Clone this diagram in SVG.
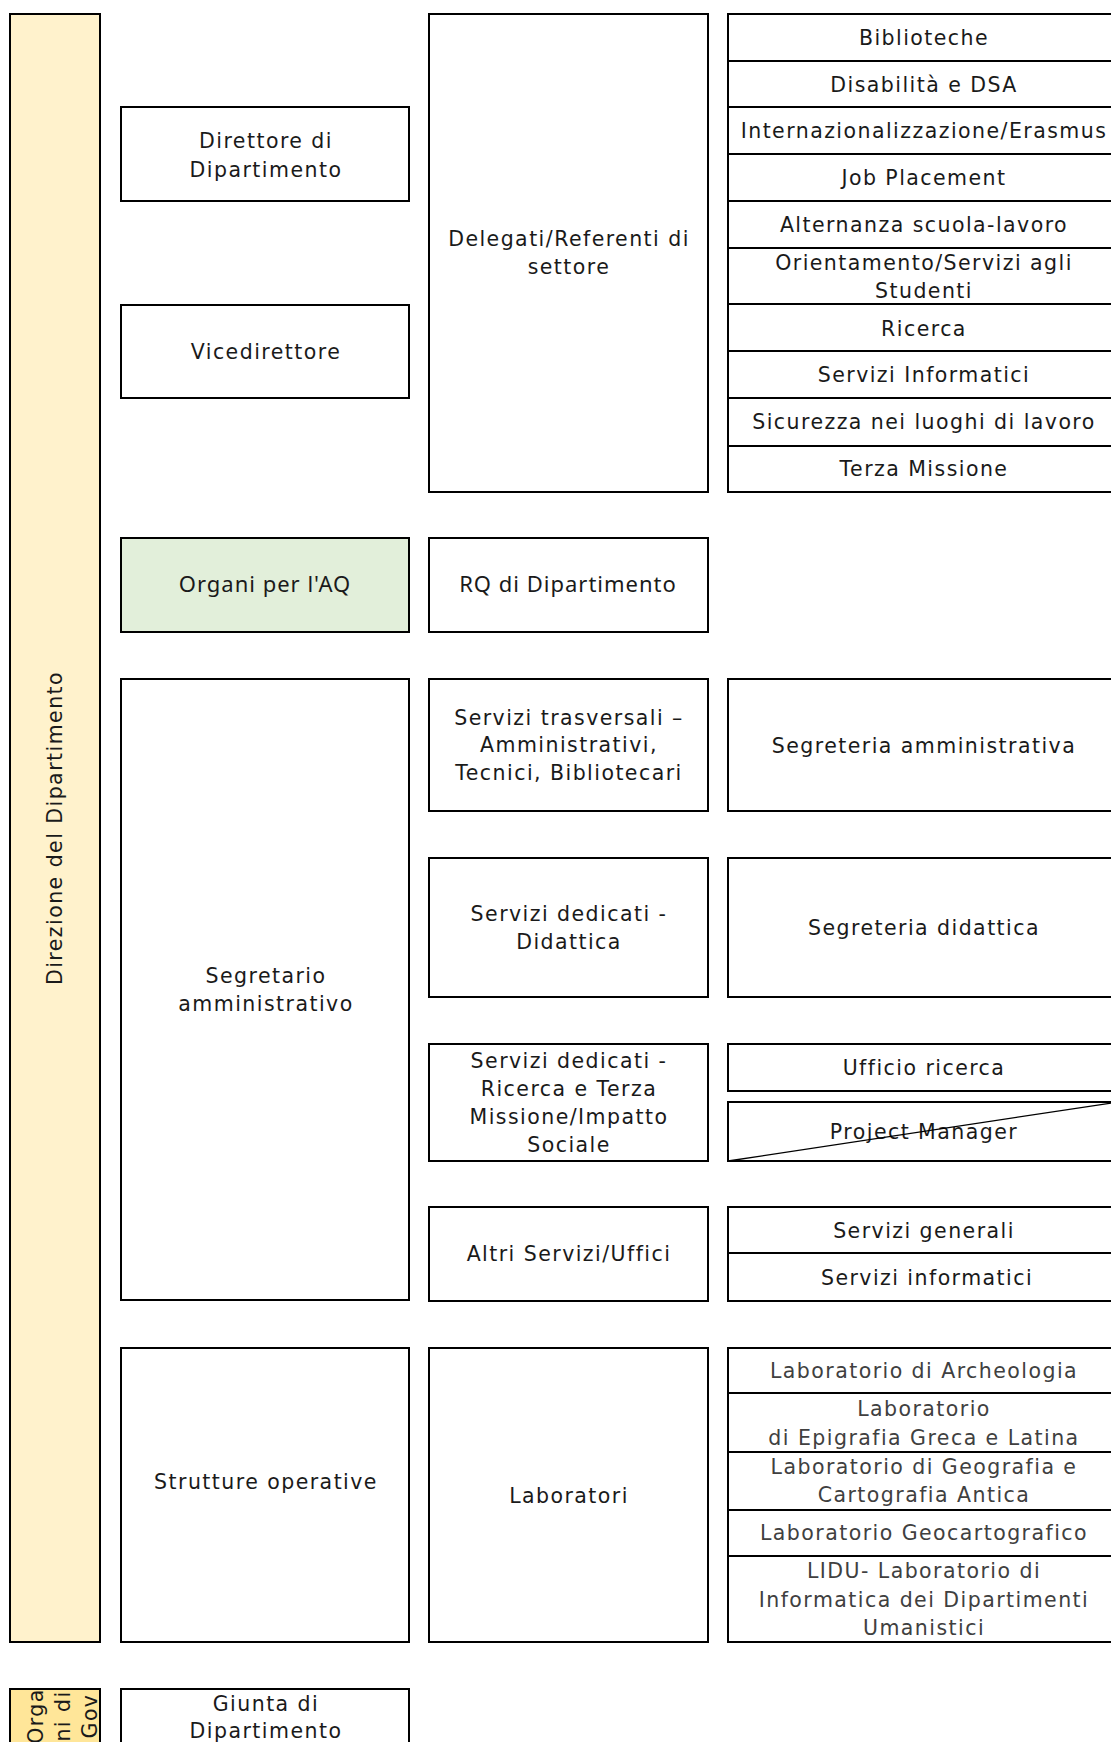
<svg xmlns="http://www.w3.org/2000/svg" width="1111" height="1742" viewBox="0 0 1111 1742">
<style>
  .b{fill:#ffffff;stroke:#000000;stroke-width:2}
  .y{fill:#fff2cc;stroke:#000000;stroke-width:2}
  .y2{fill:#ffe699;stroke:#000000;stroke-width:2}
  .g{fill:#e2efda;stroke:#000000;stroke-width:2}
  text{font-family:"DejaVu Sans","Noto Sans",sans-serif;font-size:20.5px;letter-spacing:1.45px;fill:#1a1a1a;text-anchor:middle}
  .lab{fill:#404040}
  .aq{font-family:"Noto Sans","Open Sans",sans-serif;font-size:22px;letter-spacing:1px}
</style>
<rect width="1111" height="1742" fill="#ffffff"/>
<g id="connectors"></g>

<g id="direzione">
  <rect class="y" x="10" y="14" width="90" height="1628"/>
  <text transform="translate(62,828) rotate(-90)">Direzione del Dipartimento</text>
</g>

<g id="direttore">
  <rect class="b" x="121" y="107" width="288" height="94"/>
  <text x="266" y="148">Direttore di</text>
  <text x="266" y="177">Dipartimento</text>
</g>
<g id="vicedirettore">
  <rect class="b" x="121" y="305" width="288" height="93"/>
  <text x="266" y="359">Vicedirettore</text>
</g>
<g id="delegati">
  <rect class="b" x="429" y="14" width="279" height="478"/>
  <text x="569" y="246">Delegati/Referenti di</text>
  <text x="569" y="274">settore</text>
</g>

<g id="deleghe">
  <rect class="b" x="728" y="14" width="390" height="47"/>
  <text x="924" y="45">Biblioteche</text>
  <rect class="b" x="728" y="61" width="390" height="46"/>
  <text x="924" y="92">Disabilità e DSA</text>
  <rect class="b" x="728" y="107" width="390" height="47"/>
  <text x="924" y="138">Internazionalizzazione/Erasmus</text>
  <rect class="b" x="728" y="154" width="390" height="47"/>
  <text x="924" y="185">Job Placement</text>
  <rect class="b" x="728" y="201" width="390" height="47"/>
  <text x="924" y="232">Alternanza scuola-lavoro</text>
  <rect class="b" x="728" y="248" width="390" height="56"/>
  <text x="924" y="270">Orientamento/Servizi agli</text>
  <text x="924" y="298">Studenti</text>
  <rect class="b" x="728" y="304" width="390" height="47"/>
  <text x="924" y="336">Ricerca</text>
  <rect class="b" x="728" y="351" width="390" height="47"/>
  <text x="924" y="382">Servizi Informatici</text>
  <rect class="b" x="728" y="398" width="390" height="48"/>
  <text x="924" y="429">Sicurezza nei luoghi di lavoro</text>
  <rect class="b" x="728" y="446" width="390" height="46"/>
  <text x="924" y="476">Terza Missione</text>
</g>

<g id="organi-aq">
  <rect class="g" x="121" y="538" width="288" height="94"/>
  <text class="aq" x="265" y="592">Organi per l'AQ</text>
</g>
<g id="rq">
  <rect class="b" x="429" y="538" width="279" height="94"/>
  <text class="aq" x="568" y="592">RQ di Dipartimento</text>
</g>

<g id="segretario">
  <rect class="b" x="121" y="679" width="288" height="621"/>
  <text x="266" y="983">Segretario</text>
  <text x="266" y="1011">amministrativo</text>
</g>
<g id="servizi-trasversali">
  <rect class="b" x="429" y="679" width="279" height="132"/>
  <text x="569" y="725">Servizi trasversali –</text>
  <text x="569" y="752">Amministrativi,</text>
  <text x="569" y="780">Tecnici, Bibliotecari</text>
</g>
<g id="segreteria-amministrativa">
  <rect class="b" x="728" y="679" width="390" height="132"/>
  <text x="924" y="753">Segreteria amministrativa</text>
</g>
<g id="servizi-didattica">
  <rect class="b" x="429" y="858" width="279" height="139"/>
  <text x="569" y="921">Servizi dedicati -</text>
  <text x="569" y="949">Didattica</text>
</g>
<g id="segreteria-didattica">
  <rect class="b" x="728" y="858" width="390" height="139"/>
  <text x="924" y="935">Segreteria didattica</text>
</g>
<g id="servizi-ricerca">
  <rect class="b" x="429" y="1044" width="279" height="117"/>
  <text x="569" y="1068">Servizi dedicati -</text>
  <text x="569" y="1096">Ricerca e Terza</text>
  <text x="569" y="1124">Missione/Impatto</text>
  <text x="569" y="1152">Sociale</text>
</g>
<g id="ufficio-ricerca">
  <rect class="b" x="728" y="1044" width="390" height="47"/>
  <text x="924" y="1075">Ufficio ricerca</text>
</g>
<g id="project-manager">
  <rect class="b" x="728" y="1102" width="390" height="59"/>
  <text x="924" y="1139">Project Manager</text>
  <line x1="728" y1="1161" x2="1118" y2="1102" stroke="#000000" stroke-width="1.3"/>
</g>
<g id="altri-servizi">
  <rect class="b" x="429" y="1207" width="279" height="94"/>
  <text x="569" y="1261">Altri Servizi/Uffici</text>
</g>
<g id="servizi-generali">
  <rect class="b" x="728" y="1207" width="390" height="46"/>
  <text x="924" y="1238">Servizi generali</text>
</g>
<g id="servizi-informatici">
  <rect class="b" x="728" y="1253" width="390" height="48"/>
  <text x="927" y="1285">Servizi informatici</text>
</g>

<g id="strutture-operative">
  <rect class="b" x="121" y="1348" width="288" height="294"/>
  <text x="266" y="1489">Strutture operative</text>
</g>
<g id="laboratori">
  <rect class="b" x="429" y="1348" width="279" height="294"/>
  <text x="569" y="1503">Laboratori</text>
</g>
<g id="lab-list">
  <rect class="b" x="728" y="1348" width="390" height="45"/>
  <text class="lab" x="924" y="1378">Laboratorio di Archeologia</text>
  <rect class="b" x="728" y="1393" width="390" height="59"/>
  <text class="lab" x="924" y="1416">Laboratorio</text>
  <text class="lab" x="924" y="1445">di Epigrafia Greca e Latina</text>
  <rect class="b" x="728" y="1452" width="390" height="58"/>
  <text class="lab" x="924" y="1474">Laboratorio di Geografia e</text>
  <text class="lab" x="924" y="1502">Cartografia Antica</text>
  <rect class="b" x="728" y="1510" width="390" height="46"/>
  <text class="lab" x="924" y="1540">Laboratorio Geocartografico</text>
  <rect class="b" x="728" y="1556" width="390" height="86"/>
  <text class="lab" x="924" y="1578">LIDU- Laboratorio di</text>
  <text class="lab" x="924" y="1607">Informatica dei Dipartimenti</text>
  <text class="lab" x="924" y="1635">Umanistici</text>
</g>

<g id="organi-governo">
  <rect class="y2" x="10" y="1689" width="90" height="70"/>
  <text transform="translate(43,1716) rotate(-90)">Orga</text>
  <text transform="translate(70,1716) rotate(-90)">ni di</text>
  <text transform="translate(97,1716) rotate(-90)">Gov</text>
</g>
<g id="giunta">
  <rect class="b" x="121" y="1689" width="288" height="70"/>
  <text x="266" y="1711">Giunta di</text>
  <text x="266" y="1738">Dipartimento</text>
</g>
</svg>
